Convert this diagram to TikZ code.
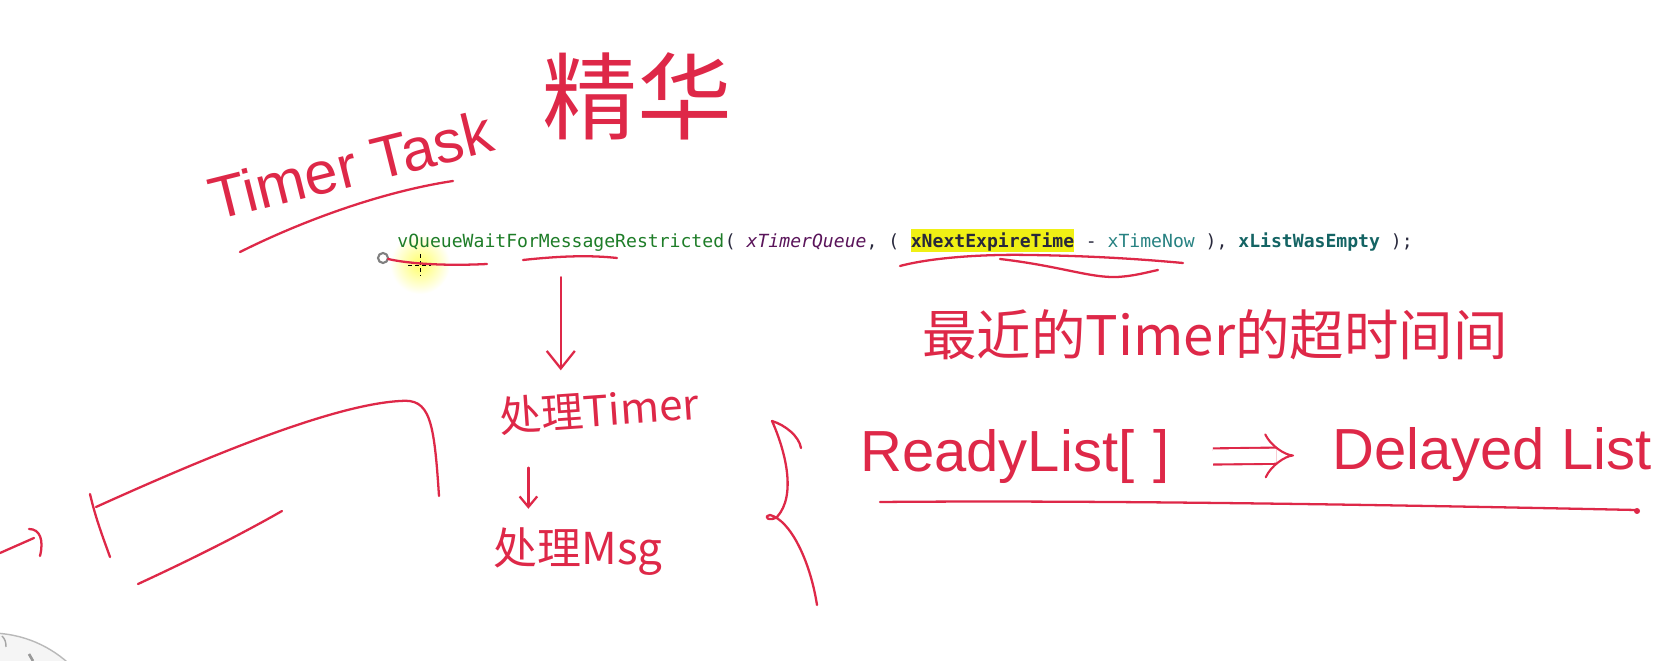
\documentclass[tikz,border=0pt]{standalone}
\usepackage{fontspec}
\setmainfont{Liberation Sans}
\setmonofont{DejaVu Sans Mono}
\newfontfamily\cjk{Noto Sans CJK SC}
\usetikzlibrary{arrows.meta,positioning}

\definecolor{inkred}{RGB}{222,40,72}
\definecolor{fngreen}{RGB}{30,125,40}
\definecolor{argpurple}{RGB}{90,20,90}
\definecolor{hlyellow}{RGB}{240,240,20}
\definecolor{varteal}{RGB}{40,130,130}
\definecolor{boldteal}{RGB}{20,100,100}
\definecolor{punct}{RGB}{40,40,60}
\newcommand\csp{\phantom{x}}

\begin{document}
\begin{tikzpicture}[x=0.02cm,y=-0.02cm,
  ink/.style={draw=inkred, line width=1.3pt, line cap=round, line join=round},
  hand/.style={text=inkred, inner sep=0pt},
  code/.style={font=\ttfamily\fontsize{10.3}{12}\selectfont, text=punct, inner sep=0pt, anchor=base west},
  arr/.style={ink, -{Straight Barb[length=10pt,width=16pt]}},
  smallarr/.style={ink, -{Straight Barb[length=6pt,width=10pt]}}]

\path[use as bounding box, fill=white] (0,0) rectangle (1670,661);

% dial, bottom left
\filldraw[fill=gray!8, draw=gray!55, line width=0.8pt] (-10,750) circle (117);
\draw[gray!70, line width=0.8pt] (2,636) .. controls (5,639) and (6,642) .. (6,647);
\draw[gray!80, line width=1.5pt] (29,654) -- (33,661);

% cursor
\shade[inner color=yellow!60, outer color=white] (420,264) circle (30);
\draw[gray, line width=1.2pt] (383,258) circle (5);
\draw[black, line width=0.5pt, dash pattern=on 2pt off 2pt] (408,265) -- (431,265) (420,254) -- (420,276);

% titre
\node[hand, font=\fontsize{34}{40}\selectfont, rotate=14] (title) at (351,165) {Timer Task};
\node[hand, font=\cjk\fontsize{54}{60}\selectfont] (essence) at (637,96) {精华};
\draw[ink] (240,252) .. controls (300,222) and (380,192) .. (453,181);

% code
\node[code] (fname) at (397,248) {\color{fngreen}vQueueWaitForMessageRestricted};
\node[code] (argA) at (fname.base east) {(\ \textcolor{argpurple}{\itshape xTimerQueue},\ (\csp};
\node[code, fill=hlyellow, text height=0.38cm, text depth=0.08cm] (expire) at (argA.base east) {\bfseries xNextExpireTime};
\node[code] (argB) at (expire.base east) {\ -\ \textcolor{varteal}{xTimeNow}\ ),\ \textcolor{boldteal}{\bfseries xListWasEmpty}\ );};

% traits sous le code
\draw[ink] (388,259) .. controls (410,264) and (447,266) .. (487,264);
\draw[ink] (523,260) .. controls (560,256) and (590,255) .. (617,258);
\draw[ink] (900,266) .. controls (930,258) and (980,254) .. (1030,255)
  .. controls (1100,256) and (1150,260) .. (1183,263);
\draw[ink] (1000,259) .. controls (1060,266) and (1090,278) .. (1117,277)
  .. controls (1135,276) and (1148,272) .. (1158,270);

% traitement
\node[hand, font=\cjk\fontsize{24}{28}\selectfont, rotate=4] (timer) at (599,410) {处理Timer};
\node[hand, font=\cjk\fontsize{25}{30}\selectfont] (msg) at (578,552) {处理Msg};
\draw[arr, shorten <=0.5cm, shorten >=0.4cm] (fname.south) -- (fname.south |- timer.north);
\coordinate (m1) at ([xshift=-1.44cm]timer.south);
\draw[smallarr, shorten <=0.76cm, shorten >=0.38cm] (m1) -- (m1 |- msg.north);

% boucle, a gauche
\draw[ink] (0,553) -- (34,538);
\draw[ink] (29,529) .. controls (40,529) and (44,540) .. (40,556);
\draw[ink] (90,494) .. controls (96,520) and (104,540) .. (110,557);
\draw[ink] (96,507) .. controls (200,460) and (330,405) .. (400,401)
  .. controls (430,398) and (434,420) .. (439,496);
\draw[ink] (138,584) .. controls (190,560) and (240,535) .. (282,511);

% accolade
\draw[ink] (801,448) .. controls (799,436) and (785,425) .. (772,421)
  .. controls (785,450) and (797,495) .. (777,517)
  .. controls (770,522) and (762,517) .. (770,515)
  .. controls (790,520) and (810,560) .. (817,605);

% listes
\node[hand, font=\cjk\fontsize{31}{36}\selectfont] (nearest) at (1215,335) {最近的Timer的超时间间};
\node[hand, font=\fontsize{33}{40}\selectfont, anchor=base west] (ready) at (860,472) {ReadyList[\,\,]};
\node[hand, font=\fontsize{33}{40}\selectfont, anchor=base west] (delayed) at (1332,470) {Delayed List};
\draw[inkred, line width=1.2pt, double, double distance=8pt, -{Implies}, shorten <=0.86cm, shorten >=0.76cm] (ready.east) -- (delayed.west);
\draw[ink] (880,502) .. controls (1100,500) and (1400,505) .. (1636,510);
\fill[inkred] (1637,511) circle (3);

\end{tikzpicture}
\end{document}
